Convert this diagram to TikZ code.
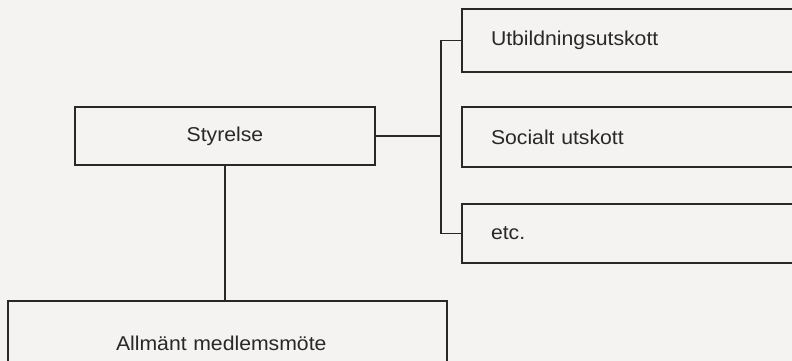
\documentclass[tikz,border=0pt]{standalone}
\usepackage{fontspec}
\newfontfamily\orgfont[FakeStretch=1.06]{Liberation Sans}
\definecolor{paper}{RGB}{244,243,241}
\definecolor{ink}{RGB}{40,40,40}
\begin{document}
\begin{tikzpicture}[x=1pt,y=-1pt,
  orgbox/.style={draw=ink, line width=1.2pt, rectangle, inner sep=0pt, outer sep=0pt,
    text=ink, font=\orgfont\fontsize{20}{23}\selectfont, anchor=north west},
  subbox/.style={orgbox, minimum width=338pt, text width=280pt, align=left, inner xsep=29pt},
  link/.style={draw=ink, line width=1.2pt}]
\fill[paper] (0,0) rectangle (792,361);
\useasboundingbox (0,0) rectangle (792,361);
\clip (0,0) rectangle (792,361);
\node[orgbox, minimum width=300pt, minimum height=58pt] (sty) at (75,107) {Styrelse};
\node[subbox, minimum height=63pt] (utb) at (462,9) {Utbildningsutskott};
\node[subbox, minimum height=60pt] (soc) at (462,107) {Socialt utskott};
\node[subbox, minimum height=59pt] (etc) at (462,204) {etc.};
\node[orgbox, minimum width=439pt, minimum height=84pt, text width=223pt, align=left, inner xsep=108pt] (all) at (8,301) {Allmänt medlemsmöte};
\coordinate (bx) at (441,0);
\draw[link] (utb.west) -- (utb.west -| bx) -- (etc.west -| bx) -- (etc.west);
\draw[link] (sty.east) -- (sty.east -| bx);
\draw[link] (sty.south) -- (sty.south |- all.north);
\end{tikzpicture}
\end{document}
